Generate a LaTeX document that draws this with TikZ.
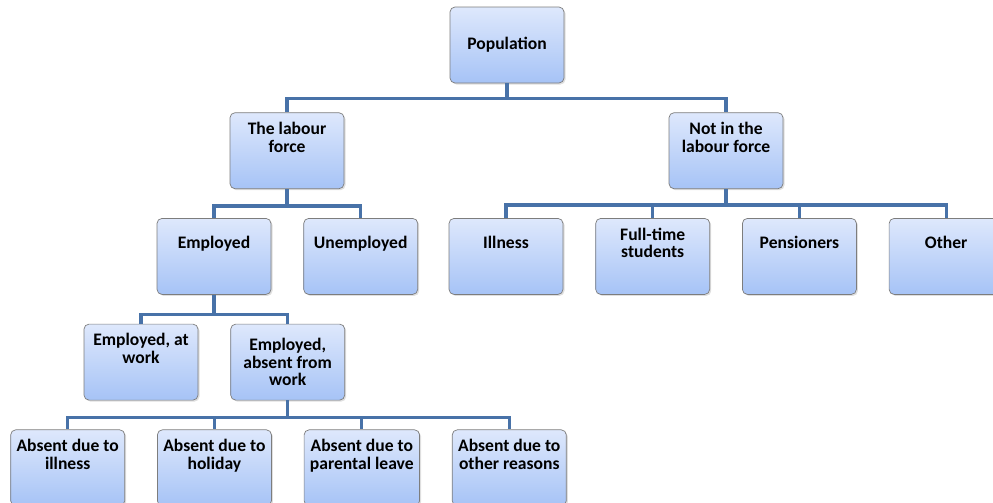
\documentclass[tikz,border=0pt]{standalone}
\usepackage{fontspec}
\setmainfont{Carlito}
\usepackage{tikz}
\usetikzlibrary{
	positioning,
	shadows
}

\definecolor{boxtop}{RGB}{222,232,252}
\definecolor{boxbottom}{RGB}{166,195,246}
\definecolor{boxline}{RGB}{125,125,125}
\definecolor{linkblue}{RGB}{72,114,168}

% text sits a little above the middle of the box
\newcommand{\boxtext}[1]{\raisebox{0pt}[\height][\dimexpr\depth+0.44cm\relax]{\begin{tabular}{@{}c@{}}#1\end{tabular}}}

\tikzset{
	unit/.style={draw=boxline, rectangle, rounded corners=0.1cm, top color=boxtop, bottom color=boxbottom,
		minimum width=2.28cm, minimum height=1.52cm, align=center,
		font=\bfseries\fontsize{10}{10.1}\selectfont,
		drop shadow={opacity=0.25, shadow xshift=0.03cm, shadow yshift=-0.03cm}},
	link/.style={draw=linkblue, line width=1.8pt}
}

\begin{document}
\begin{tikzpicture}[node distance=0.58cm and 0.64cm]
        \useasboundingbox (0,0) rectangle (19.86,-10.04);
        \clip (0,0) rectangle (19.86,-10.04);

        \node[unit] (pop) at (10.14,-0.90) {Population};
        \node[unit, below=of pop, xshift=-4.40cm] (lab) {\boxtext{The labour\\force}};
        \node[unit, below=of pop, xshift=4.38cm] (nil) {\boxtext{Not in the\\labour force}};

        \node[unit, below=of lab, xshift=-1.46cm] (emp) {\boxtext{Employed}};
        \node[unit, right=of emp] (unemp) {\boxtext{Unemployed}};

        \node[unit, below=of nil, xshift=-4.40cm] (ill) {\boxtext{Illness}};
        \node[unit, right=of ill] (fts) {\boxtext{Full-time\\students}};
        \node[unit, right=of fts] (pen) {\boxtext{Pensioners}};
        \node[unit, right=of pen] (oth) {\boxtext{Other}};

        \node[unit, below=of emp, xshift=-1.46cm] (ewk) {\boxtext{Employed, at\\work}};
        \node[unit, right=of ewk] (eab) {Employed,\\absent from\\work};

        \node[unit, below=of eab, xshift=-4.40cm] (aill) {\boxtext{Absent due to\\illness}};
        \node[unit, right=of aill] (ahol) {\boxtext{Absent due to\\holiday}};
        \node[unit, right=of ahol] (apar) {\boxtext{Absent due to\\parental leave}};
        \node[unit, right=of apar] (aoth) {\boxtext{Absent due to\\other reasons}};

        \foreach \c in {lab,nil} \draw[link] (pop.south) -- ++(0,-0.3) -| (\c.north);
        \foreach \c in {emp,unemp} \draw[link] (lab.south) -- ++(0,-0.34) -| (\c.north);
        \foreach \c in {ill,fts,pen,oth} \draw[link] (nil.south) -- ++(0,-0.32) -| (\c.north);
        \foreach \c in {ewk,eab} \draw[link] (emp.south) -- ++(0,-0.4) -| (\c.north);
        \foreach \c in {aill,ahol,apar,aoth} \draw[link] (eab.south) -- ++(0,-0.34) -| (\c.north);
    \end{tikzpicture}
\end{document}
